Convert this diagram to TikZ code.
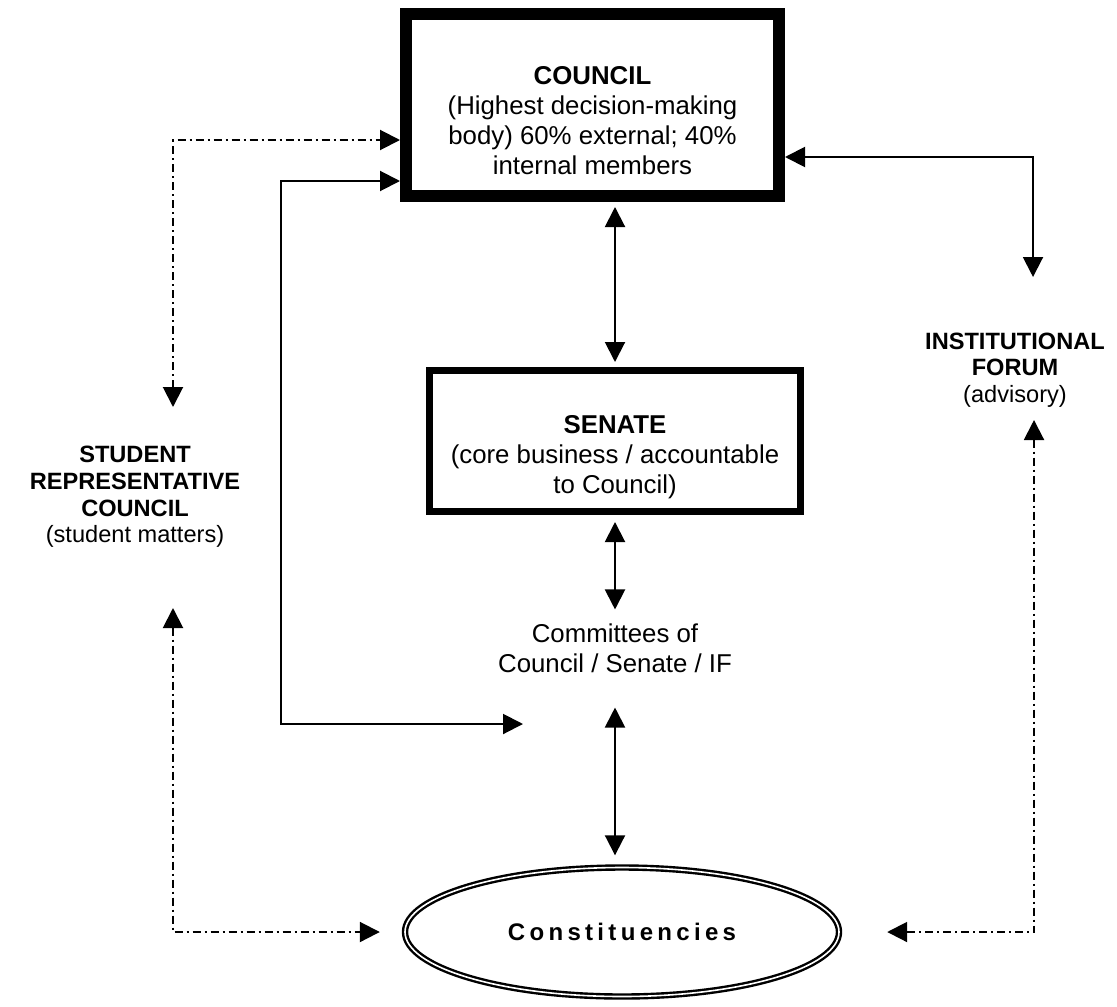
\documentclass[tikz,border=0pt]{standalone}
\usepackage{fontspec}
\setmainfont{Liberation Sans}
\usetikzlibrary{arrows.meta, positioning, shapes.geometric}

\begin{document}
\begin{tikzpicture}[x = 0.5pt, y = -0.5pt, on grid, >={Triangle[length=10pt, width=10pt]},
    body/.style = {draw, rectangle, align = center, font = \fontsize{12.9}{15}\selectfont},
    side/.style = {align = center, font = \fontsize{11.8}{13.3}\selectfont},
    link/.style = {<->, line width = 1pt},
    loose/.style = {link, dash pattern = on 4pt off 2pt on 1pt off 2pt}]
  \useasboundingbox (0,0) rectangle (1117,1006);
  \node[body, line width = 6pt, minimum width = 186.5pt, minimum height = 91pt] (council) at (592.5,105)
    {\mbox{}\\[10pt]\textbf{COUNCIL}\\(Highest decision-making\\body) 60\% external; 40\%\\internal members};
  \node[body, line width = 3.5pt, minimum width = 185.5pt, minimum height = 70.5pt] (senate)
    [below right = 168pt and 11.25pt of council]
    {\mbox{}\\[10pt]\textbf{SENATE}\\(core business / accountable\\to Council)};
  \node[align = center, font = \fontsize{12.9}{15}\selectfont] (comm) [below = 103.5pt of senate]
    {Committees of\\Council / Senate / IF};
  \node[draw, ellipse, double, line width = 1.2pt, double distance = 0.8pt, minimum width = 217pt,
    minimum height = 64.5pt, font = \fontsize{12}{14}\selectfont\bfseries\addfontfeatures{LetterSpace=18}]
    (const) [below right = 142pt and 3.5pt of comm] {Constituencies};
  \node[side] (src) [below left = 196pt and 228.75pt of council]
    {\textbf{STUDENT}\\\textbf{REPRESENTATIVE}\\\textbf{COUNCIL}\\(student matters)};
  \node[side] (forum) [below right = 132.5pt and 211.25pt of council]
    {\textbf{INSTITUTIONAL}\\\textbf{FORUM}\\(advisory)};
  \coordinate (srcup) at (173,407);
  \coordinate (srclow) at (173,608);
  \coordinate (forumup) at (1033,277);
  \coordinate (forumlow) at (1034,420);
  \coordinate (bend) at (281,724);
  \coordinate (commin) at (523,724);
  \draw[loose] (srcup) |- ([yshift=-17.5pt]council.west);
  \draw[link] ([yshift=-38pt]council.west) -| (bend) -- (commin);
  \draw[link] ([yshift=-26pt]council.east) -| (forumup);
  \draw[link, shorten <= 2.5pt, shorten >= 2.5pt] (senate.north |- council.south) -- (senate.north);
  \draw[link, shorten <= 3.5pt, shorten >= 3.5pt] (senate.south) -- (senate.south |- comm.north);
  \draw[link, shorten <= 14pt, shorten >= 5.5pt] (comm.south) -- (comm.south |- const.north);
  \draw[loose] (srclow) |- ([xshift=-12pt]const.west);
  \draw[loose] (forumlow) |- ([xshift=23.5pt]const.east);
\end{tikzpicture}
\end{document}
